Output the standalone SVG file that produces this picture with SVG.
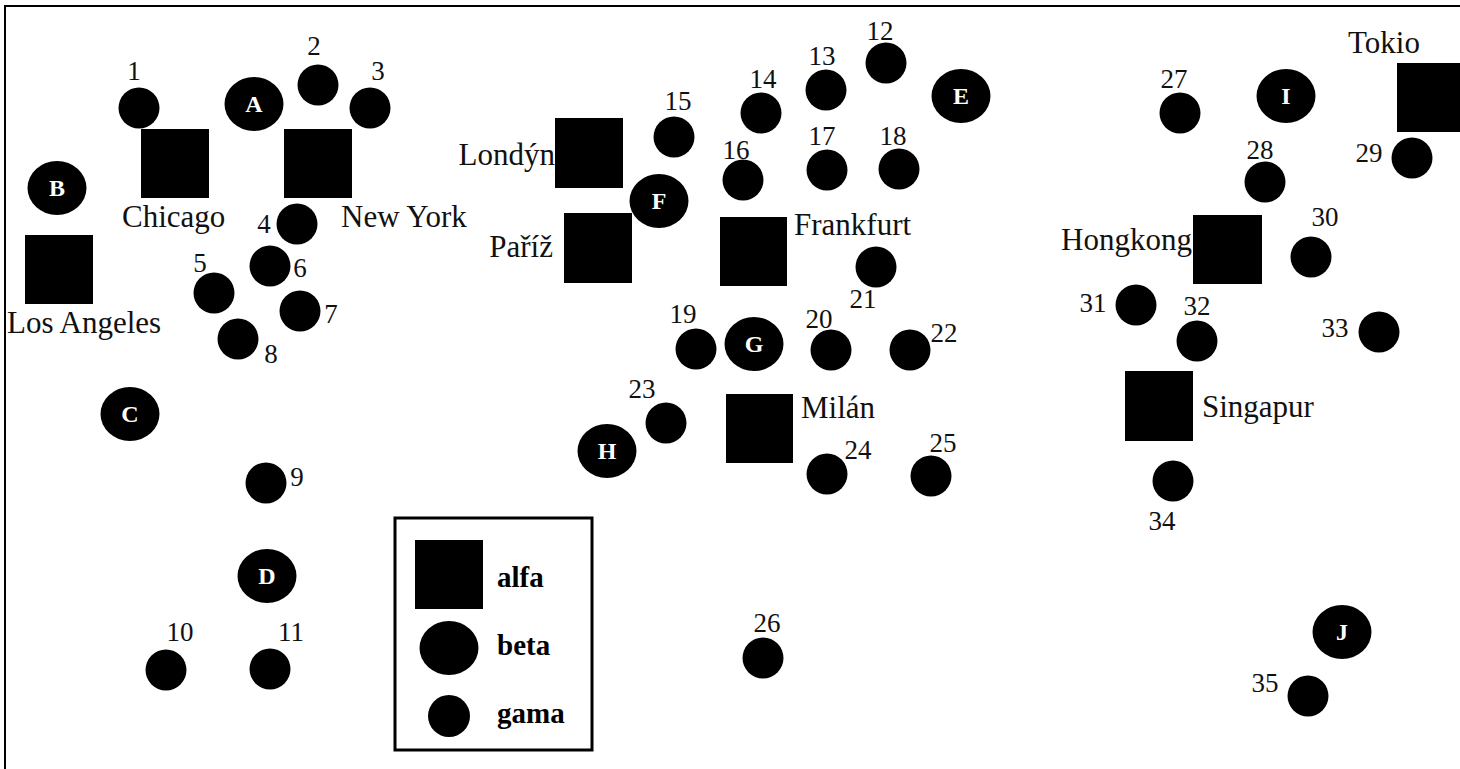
<svg xmlns="http://www.w3.org/2000/svg" width="1460" height="769" viewBox="0 0 1460 769">
<style>
.bg{fill:#fff}
.frame{fill:none;stroke:#000;stroke-width:2}
.alfa{fill:#000}
.beta{fill:#000}
.gama{fill:#000}
.lbl{font-family:"Liberation Serif","Times New Roman",serif;font-size:27px;fill:#111;text-anchor:middle}
.city{font-family:"Liberation Serif","Times New Roman",serif;font-size:31px;fill:#111}
.let{font-family:"Liberation Serif","Times New Roman",serif;font-size:24px;font-weight:bold;fill:#fff;text-anchor:middle}
.leg{font-family:"Liberation Serif","Times New Roman",serif;font-size:29px;font-weight:bold;fill:#000}
.legbox{fill:none;stroke:#000;stroke-width:3}
</style>
<rect class="bg" x="0" y="0" width="1460" height="769"/>
<rect class="frame" x="5" y="6" width="1480" height="790"/>
<g id="connectors"/>
<!-- alfa squares -->
<g id="chicago"><rect class="alfa" x="141" y="129" width="68" height="69"/><text class="city" x="122" y="227">Chicago</text></g>
<g id="newyork"><rect class="alfa" x="284" y="129" width="68" height="69"/><text class="city" x="341" y="227">New York</text></g>
<g id="losangeles"><rect class="alfa" x="25" y="235" width="68" height="69"/><text class="city" x="7" y="333">Los Angeles</text></g>
<g id="londyn"><rect class="alfa" x="555" y="118" width="68" height="70"/><text class="city" x="555" y="165" text-anchor="end">Londýn</text></g>
<g id="pariz"><rect class="alfa" x="564" y="213" width="68" height="70"/><text class="city" x="553" y="257" text-anchor="end">Paříž</text></g>
<g id="frankfurt"><rect class="alfa" x="720" y="217" width="67" height="69"/><text class="city" x="794" y="235">Frankfurt</text></g>
<g id="milan"><rect class="alfa" x="726" y="394" width="67" height="69"/><text class="city" x="801" y="418">Milán</text></g>
<g id="hongkong"><rect class="alfa" x="1193" y="215" width="69" height="69"/><text class="city" x="1192" y="250" text-anchor="end">Hongkong</text></g>
<g id="singapur"><rect class="alfa" x="1125" y="371" width="68" height="70"/><text class="city" x="1202" y="417">Singapur</text></g>
<g id="tokio"><rect class="alfa" x="1397" y="63" width="68" height="69"/><text class="city" x="1348" y="53">Tokio</text></g>
<!-- beta ellipses -->
<g id="A"><ellipse class="beta" cx="254" cy="104" rx="29.5" ry="27"/><text class="let" x="254" y="112">A</text></g>
<g id="B"><ellipse class="beta" cx="57" cy="188" rx="29.5" ry="27"/><text class="let" x="57" y="196">B</text></g>
<g id="C"><ellipse class="beta" cx="130" cy="414" rx="29.5" ry="27"/><text class="let" x="130" y="422">C</text></g>
<g id="D"><ellipse class="beta" cx="267" cy="576" rx="29.5" ry="27"/><text class="let" x="267" y="584">D</text></g>
<g id="E"><ellipse class="beta" cx="961" cy="96" rx="29.5" ry="27"/><text class="let" x="961" y="104">E</text></g>
<g id="F"><ellipse class="beta" cx="659" cy="201" rx="29.5" ry="27"/><text class="let" x="659" y="209">F</text></g>
<g id="G"><ellipse class="beta" cx="754" cy="344" rx="29.5" ry="27"/><text class="let" x="754" y="352">G</text></g>
<g id="H"><ellipse class="beta" cx="607" cy="451" rx="29.5" ry="27"/><text class="let" x="607" y="459">H</text></g>
<g id="I"><ellipse class="beta" cx="1286" cy="96" rx="29.5" ry="27"/><text class="let" x="1286" y="104">I</text></g>
<g id="J"><ellipse class="beta" cx="1342" cy="632" rx="29.5" ry="27"/><text class="let" x="1342" y="640">J</text></g>
<!-- gama circles -->
<g id="n1"><circle class="gama" cx="139" cy="108" r="20.5"/><text class="lbl" x="134" y="80">1</text></g>
<g id="n2"><circle class="gama" cx="318" cy="85" r="20.5"/><text class="lbl" x="314" y="55">2</text></g>
<g id="n3"><circle class="gama" cx="370" cy="108" r="20.5"/><text class="lbl" x="378" y="80">3</text></g>
<g id="n4"><circle class="gama" cx="297" cy="224" r="20.5"/><text class="lbl" x="264" y="233">4</text></g>
<g id="n5"><circle class="gama" cx="214" cy="293" r="20.5"/><text class="lbl" x="200" y="272">5</text></g>
<g id="n6"><circle class="gama" cx="270" cy="266" r="20.5"/><text class="lbl" x="300" y="277">6</text></g>
<g id="n7"><circle class="gama" cx="300" cy="311" r="20.5"/><text class="lbl" x="331" y="323">7</text></g>
<g id="n8"><circle class="gama" cx="238" cy="339" r="20.5"/><text class="lbl" x="271" y="363">8</text></g>
<g id="n9"><circle class="gama" cx="266" cy="483" r="20.5"/><text class="lbl" x="297" y="486">9</text></g>
<g id="n10"><circle class="gama" cx="166" cy="670" r="20.5"/><text class="lbl" x="180" y="641">10</text></g>
<g id="n11"><circle class="gama" cx="270" cy="669" r="20.5"/><text class="lbl" x="291" y="641">11</text></g>
<g id="n12"><circle class="gama" cx="886" cy="63" r="20.5"/><text class="lbl" x="880" y="40">12</text></g>
<g id="n13"><circle class="gama" cx="826" cy="90" r="20.5"/><text class="lbl" x="822" y="65">13</text></g>
<g id="n14"><circle class="gama" cx="761" cy="113" r="20.5"/><text class="lbl" x="763" y="88">14</text></g>
<g id="n15"><circle class="gama" cx="674" cy="137" r="20.5"/><text class="lbl" x="678" y="110">15</text></g>
<g id="n16"><circle class="gama" cx="743" cy="180" r="20.5"/><text class="lbl" x="736" y="159">16</text></g>
<g id="n17"><circle class="gama" cx="827" cy="170" r="20.5"/><text class="lbl" x="822" y="145">17</text></g>
<g id="n18"><circle class="gama" cx="899" cy="169" r="20.5"/><text class="lbl" x="893" y="145">18</text></g>
<g id="n19"><circle class="gama" cx="696" cy="349" r="20.5"/><text class="lbl" x="683" y="323">19</text></g>
<g id="n20"><circle class="gama" cx="831" cy="350" r="20.5"/><text class="lbl" x="819" y="328">20</text></g>
<g id="n21"><circle class="gama" cx="876" cy="267" r="20.5"/><text class="lbl" x="863" y="308">21</text></g>
<g id="n22"><circle class="gama" cx="910" cy="350" r="20.5"/><text class="lbl" x="944" y="342">22</text></g>
<g id="n23"><circle class="gama" cx="666" cy="423" r="20.5"/><text class="lbl" x="642" y="398">23</text></g>
<g id="n24"><circle class="gama" cx="827" cy="474" r="20.5"/><text class="lbl" x="858" y="459">24</text></g>
<g id="n25"><circle class="gama" cx="931" cy="476" r="20.5"/><text class="lbl" x="943" y="452">25</text></g>
<g id="n26"><circle class="gama" cx="763" cy="658" r="20.5"/><text class="lbl" x="767" y="632">26</text></g>
<g id="n27"><circle class="gama" cx="1180" cy="113" r="20.5"/><text class="lbl" x="1174" y="88">27</text></g>
<g id="n28"><circle class="gama" cx="1265" cy="182" r="20.5"/><text class="lbl" x="1260" y="159">28</text></g>
<g id="n29"><circle class="gama" cx="1412" cy="158" r="20.5"/><text class="lbl" x="1369" y="162">29</text></g>
<g id="n30"><circle class="gama" cx="1311" cy="257" r="20.5"/><text class="lbl" x="1325" y="226">30</text></g>
<g id="n31"><circle class="gama" cx="1136" cy="305" r="20.5"/><text class="lbl" x="1093" y="312">31</text></g>
<g id="n32"><circle class="gama" cx="1197" cy="341" r="20.5"/><text class="lbl" x="1197" y="315">32</text></g>
<g id="n33"><circle class="gama" cx="1379" cy="332" r="20.5"/><text class="lbl" x="1335" y="337">33</text></g>
<g id="n34"><circle class="gama" cx="1173" cy="481" r="20.5"/><text class="lbl" x="1162" y="530">34</text></g>
<g id="n35"><circle class="gama" cx="1308" cy="696" r="20.5"/><text class="lbl" x="1265" y="692">35</text></g>
<!-- legend -->
<g id="legend">
<rect class="legbox" x="395" y="518" width="197" height="232"/>
<rect class="alfa" x="415" y="540" width="68" height="69"/>
<text class="leg" x="497" y="587">alfa</text>
<ellipse class="beta" cx="449" cy="648" rx="29.5" ry="27"/>
<text class="leg" x="497" y="655">beta</text>
<circle class="gama" cx="449" cy="716" r="21"/>
<text class="leg" x="497" y="723">gama</text>
</g>
</svg>
